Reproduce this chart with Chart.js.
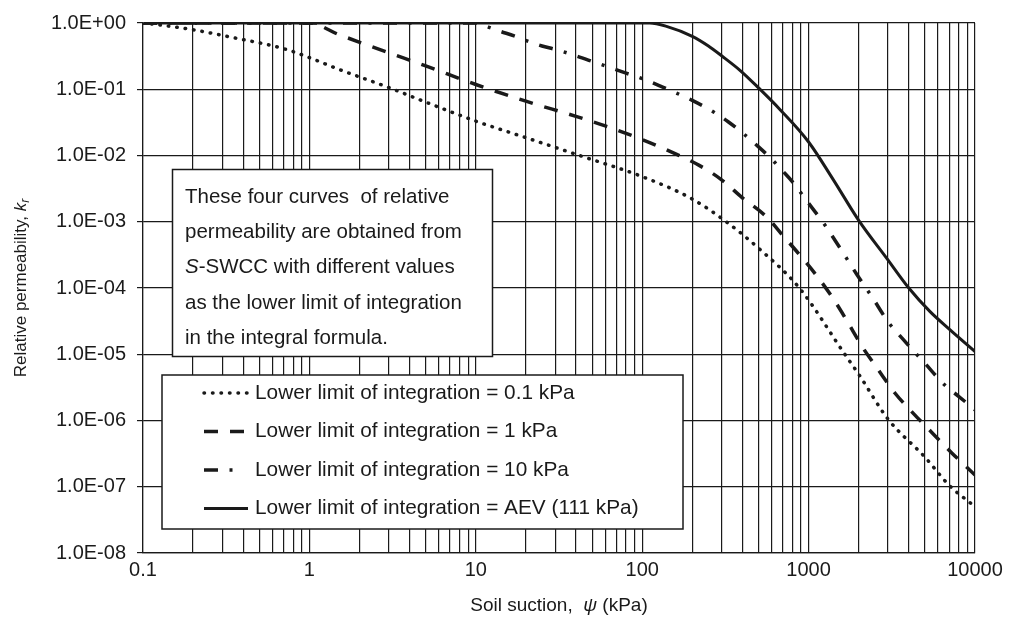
<!DOCTYPE html>
<html lang="en">
<head>
    <meta charset="UTF-8">
    <title>Relative permeability vs soil suction</title>
    <style>
        html, body { margin: 0; padding: 0; background: #ffffff; }
        .wrap { width: 1011px; height: 626px; position: relative; }
    </style>
</head>
<body>
    <div class="wrap"><canvas id="krChart"></canvas></div>

    <script src="https://cdn.jsdelivr.net/npm/chart.js"></script>
    <script>
        // axis labels
        const xTickLabels = ['0.1', '1', '10', '100', '1000', '10000'];
        const yTickLabels = ['1.0E-08', '1.0E-07', '1.0E-06', '1.0E-05', '1.0E-04',
                             '1.0E-03', '1.0E-02', '1.0E-01', '1.0E+00'];

        // lower limit of integration = 0.1 kPa
        const suction01 = [0.1, 0.12, 0.2, 0.35, 0.7, 1, 1.5, 3, 5, 10, 20, 42, 100, 200, 320,
                           500, 880, 1650, 2000, 3000, 5000, 7000, 10000];
        const kr01 = [1, 0.95, 0.79, 0.6, 0.41, 0.3, 0.2, 0.106, 0.064, 0.033, 0.0186, 0.01,
                      4.8e-3, 2.2e-3, 1.0e-3, 4.0e-4, 1.0e-4, 1.0e-5, 5.0e-6, 1.05e-6, 2.8e-7,
                      1.05e-7, 5.0e-8];

        // lower limit of integration = 1 kPa
        const suction1 = [0.1, 1, 1.5, 2.2, 3, 5, 10, 20, 40, 60, 100, 160, 220, 300, 400, 560,
                          700, 900, 1150, 1400, 1700, 2100, 2600, 3300, 4300, 5500, 7200, 10000];
        const kr1 = [1, 1, 0.67, 0.47, 0.355, 0.225, 0.118, 0.066, 0.039, 0.028, 0.0174, 0.0105,
                     7.1e-3, 4.3e-3, 2.3e-3, 1.18e-3, 6.2e-4, 3.0e-4, 1.4e-4, 7.0e-5, 3.2e-5,
                     1.3e-5, 6.0e-6, 2.6e-6, 1.25e-6, 6.6e-7, 3.3e-7, 1.5e-7];

        // lower limit of integration = 10 kPa
        const suction10 = [0.1, 10, 12, 14, 17, 21, 25, 30, 40, 53, 65, 80, 100, 135, 160, 200,
                           270, 330, 400, 500, 600, 700, 800, 1000, 1250, 1500, 1950, 2400, 3000,
                           3850, 5000, 6600, 8000, 10000];
        const kr10 = [1, 1, 0.86, 0.75, 0.64, 0.52, 0.45, 0.4, 0.32, 0.25, 0.21, 0.175, 0.145,
                      0.106, 0.088, 0.068, 0.045, 0.032, 0.022, 0.0135, 8.8e-3, 5.8e-3, 4.0e-3,
                      1.9e-3, 9.0e-4, 4.5e-4, 1.6e-4, 7.4e-5, 3.1e-5, 1.5e-5, 7.3e-6, 3.4e-6,
                      2.3e-6, 1.45e-6];

        // lower limit of integration = AEV (111 kPa)
        const suctionAEV = [0.1, 111, 140, 200, 250, 300, 390, 500, 670, 1000, 1400, 2000, 2950,
                            4000, 5370, 7000, 10000];
        const krAEV = [1, 1, 0.89, 0.63, 0.45, 0.32, 0.19, 0.105, 0.05, 0.016, 4.4e-3, 1.05e-3,
                       2.8e-4, 1.0e-4, 4.4e-5, 2.4e-5, 1.1e-5];

        const seriesLabels = [
            'Lower limit of integration = 0.1 kPa',
            'Lower limit of integration = 1 kPa',
            'Lower limit of integration = 10 kPa',
            'Lower limit of integration = AEV (111 kPa)'
        ];

        const noteLines = [
            'These four curves  of relative',
            'permeability are obtained from',
            '-SWCC with different values',
            'as the lower limit of integration',
            'in the integral formula.'
        ];

        const INK = '#1a1a1a';
        const FONT = '"Liberation Sans", Arial, sans-serif';

        function pairs(xs, ys) {
            return xs.map((x, i) => ({ x: x, y: ys[i] }));
        }

        // 1..9 x 10^n for the vertical grid
        function minorValues(lo, hi) {
            const out = [];
            for (let e = Math.round(Math.log10(lo)); e < Math.round(Math.log10(hi)); e++) {
                for (let m = 1; m <= 9; m++) {
                    out.push(Number((m * Math.pow(10, e)).toPrecision(3)));
                }
            }
            out.push(hi);
            return out;
        }

        const xDecades = xTickLabels.map(Number);
        const yDecades = yTickLabels.map(Number);

        // draws axis titles, the note box and the legend box
        const overlayPlugin = {
            id: 'overlay',
            afterDraw(chart) {
                const ctx = chart.ctx;
                const area = chart.chartArea;
                ctx.save();
                ctx.fillStyle = INK;
                ctx.textBaseline = 'middle';

                // y title
                ctx.save();
                ctx.translate(21, (area.top + area.bottom) / 2);
                ctx.rotate(-Math.PI / 2);
                const yPart1 = 'Relative permeability, ';
                ctx.font = '17px ' + FONT;
                const w1 = ctx.measureText(yPart1).width;
                ctx.font = 'italic 17px ' + FONT;
                const wk = ctx.measureText('k').width;
                ctx.font = 'italic 12px ' + FONT;
                const wr = ctx.measureText('r').width;
                let x0 = -(w1 + wk + wr) / 2;
                ctx.textAlign = 'left';
                ctx.font = '17px ' + FONT;
                ctx.fillText(yPart1, x0, 0);
                ctx.font = 'italic 17px ' + FONT;
                ctx.fillText('k', x0 + w1, 0);
                ctx.font = 'italic 12px ' + FONT;
                ctx.fillText('r', x0 + w1 + wk, 5);
                ctx.restore();

                // x title
                const xa = 'Soil suction,  ', xb = 'ψ', xc = ' (kPa)';
                ctx.font = '19px ' + FONT;
                const wa = ctx.measureText(xa).width, wc = ctx.measureText(xc).width;
                ctx.font = 'italic 19px ' + FONT;
                const wb = ctx.measureText(xb).width;
                let tx = (area.left + area.right) / 2 - (wa + wb + wc) / 2;
                const ty = 606;
                ctx.textAlign = 'left';
                ctx.font = '19px ' + FONT;
                ctx.fillText(xa, tx, ty);
                ctx.font = 'italic 19px ' + FONT;
                ctx.fillText(xb, tx + wa, ty);
                ctx.font = '19px ' + FONT;
                ctx.fillText(xc, tx + wa + wb, ty);

                // note box
                ctx.fillStyle = '#ffffff';
                ctx.fillRect(172.5, 169.5, 320, 187);
                ctx.strokeStyle = INK;
                ctx.lineWidth = 1.5;
                ctx.setLineDash([]);
                ctx.strokeRect(172.5, 169.5, 320, 187);
                ctx.fillStyle = INK;
                ctx.font = '20.5px ' + FONT;
                noteLines.forEach((line, i) => {
                    const ly = 197 + i * 35.3;
                    let lx = 185;
                    if (i === 2) {
                        ctx.font = 'italic 20.5px ' + FONT;
                        ctx.fillText('S', lx, ly);
                        lx += ctx.measureText('S').width;
                        ctx.font = '20.5px ' + FONT;
                    }
                    ctx.fillText(line, lx, ly);
                });

                // legend box
                ctx.fillStyle = '#ffffff';
                ctx.fillRect(162, 375, 521, 154);
                ctx.strokeRect(162, 375, 521, 154);
                const sampleEnd = [247, 247, 235, 248];
                chart.data.datasets.forEach((ds, i) => {
                    const ly = 393 + i * 38.5;
                    ctx.save();
                    ctx.strokeStyle = INK;
                    ctx.lineWidth = ds.borderWidth;
                    ctx.lineCap = ds.borderCapStyle || 'butt';
                    ctx.setLineDash(ds.borderDash || []);
                    ctx.beginPath();
                    ctx.moveTo(204, ly);
                    ctx.lineTo(sampleEnd[i], ly);
                    ctx.stroke();
                    ctx.restore();
                    ctx.fillStyle = INK;
                    ctx.font = '20.8px ' + FONT;
                    ctx.fillText(ds.label, 255, ly);
                });
                ctx.restore();
            }
        };

        function lineSet(label, xs, ys, width, dash, cap) {
            return {
                label: label,
                data: pairs(xs, ys),
                borderColor: INK,
                backgroundColor: INK,
                borderWidth: width,
                borderDash: dash,
                borderCapStyle: cap,
                pointRadius: 0,
                fill: false,
                cubicInterpolationMode: 'monotone'
            };
        }

        const ctx = document.getElementById('krChart').getContext('2d');
        new Chart(ctx, {
            type: 'line',
            data: {
                datasets: [
                    lineSet(seriesLabels[0], suction01, kr01, 3.5, [0.5, 8], 'round'),
                    lineSet(seriesLabels[1], suction1, kr1, 3.5, [14, 12], 'butt'),
                    lineSet(seriesLabels[2], suction10, kr10, 3.5, [14, 11.5, 3, 11.5], 'butt'),
                    lineSet(seriesLabels[3], suctionAEV, krAEV, 3, [], 'butt')
                ]
            },
            options: {
                responsive: true,
                maintainAspectRatio: false,
                animation: false,
                layout: { padding: { left: 0, top: 20, right: 36, bottom: 0 } },
                plugins: {
                    legend: { display: false },
                    tooltip: { enabled: false }
                },
                scales: {
                    x: {
                        type: 'logarithmic',
                        min: 0.1,
                        max: 10000,
                        afterBuildTicks: (scale) => {
                            scale.ticks = minorValues(0.1, 10000).map(v => ({ value: v }));
                        },
                        afterFit: (scale) => { scale.height = 73; },
                        ticks: {
                            autoSkip: false,
                            maxRotation: 0,
                            padding: 5,
                            color: INK,
                            font: { family: FONT, size: 20 },
                            callback: (value) => {
                                const i = xDecades.findIndex(d => Math.abs(d - value) < d * 1e-6);
                                return i >= 0 ? xTickLabels[i] : '';
                            }
                        },
                        grid: { color: INK, lineWidth: 1.2, drawTicks: false },
                        border: { color: INK, width: 1.2 }
                    },
                    y: {
                        type: 'logarithmic',
                        min: 1e-8,
                        max: 1,
                        afterBuildTicks: (scale) => {
                            scale.ticks = yDecades.map(v => ({ value: v }));
                        },
                        afterFit: (scale) => { scale.width = 143; },
                        ticks: {
                            autoSkip: false,
                            padding: 11,
                            color: INK,
                            font: { family: FONT, size: 20 },
                            callback: (value) => {
                                const i = yDecades.findIndex(d => Math.abs(d - value) < d * 1e-6);
                                return i >= 0 ? yTickLabels[i] : '';
                            }
                        },
                        grid: { color: INK, lineWidth: 1.2, drawTicks: true, tickLength: 6 },
                        border: { color: INK, width: 1.2 }
                    }
                }
            },
            plugins: [overlayPlugin]
        });
    </script>
</body>
</html>
